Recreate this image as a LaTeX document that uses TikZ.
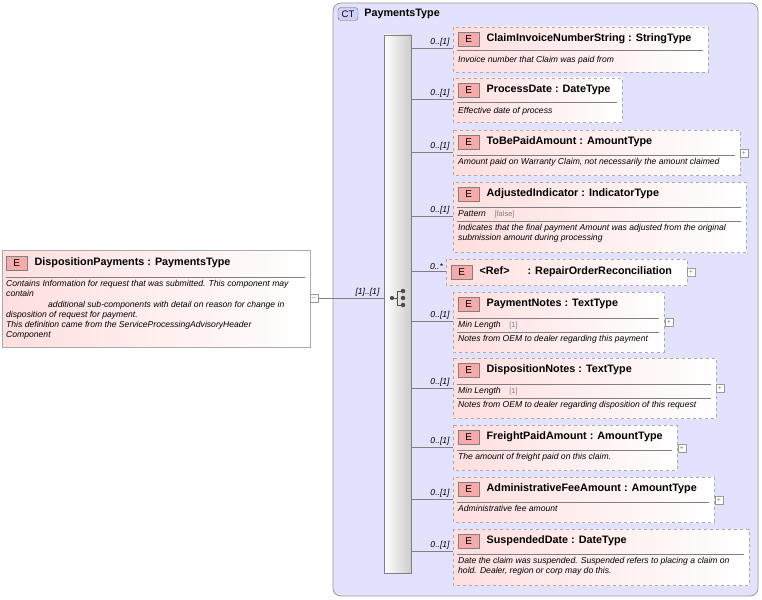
\documentclass[tikz,border=0pt]{standalone}
\usepackage{fontspec}
\setmainfont{Liberation Sans}
\usetikzlibrary{positioning}
\definecolor{elemfill}{RGB}{255,222,222}
\definecolor{elemedge}{RGB}{170,170,170}
\definecolor{ctfill}{RGB}{226,226,252}
\definecolor{badge}{RGB}{246,170,170}
\tikzset{
  elem/.style={draw=elemedge, dashed, left color=elemfill, right color=white, line width=0.8pt},
  solidelem/.style={draw=elemedge, left color=elemfill, right color=white, line width=0.8pt},
  ebadge/.style={draw=black!50, fill=badge, minimum width=21pt, minimum height=14pt, inner sep=0pt, font=\fontsize{10}{10}\selectfont},
  etitle/.style={anchor=west, inner sep=0pt, font=\fontsize{10.8}{11}\selectfont\bfseries},
  edesc/.style={anchor=north west, inner sep=0pt, align=left, font=\fontsize{8.6}{10.3}\selectfont\itshape},
  mult/.style={anchor=south east, inner sep=1pt, font=\fontsize{8.6}{9}\selectfont\itshape},
  plusbox/.style={draw=black!40, fill=white, minimum size=8pt, inner sep=0pt, font=\fontsize{7}{7}\selectfont, text=black!50},
  link/.style={draw=black!50, line width=0.6pt}
}
% element: top-left, bottom-right, name, title
\newcommand{\elembox}[6]{%
  \draw[elem] (#1,#2) rectangle (#3,#4);
  \node[ebadge, anchor=west] (#5e) at (#1+5,#2+12) {E};
  \node[etitle, right=7pt of #5e] (#5) {#6};
}
\begin{document}
\begin{tikzpicture}[x=1pt,y=-1pt]
  \useasboundingbox (0,0) rectangle (762,599);
  % complex type frame
  \draw[black!40, fill=ctfill, rounded corners=8pt, line width=0.8pt] (333,3) rectangle (758,596);
  \node[draw=black!60, fill=ctfill!60!blue!40, rounded corners=3pt, minimum width=20pt, minimum height=13pt, inner sep=0pt, font=\fontsize{9.5}{10}\selectfont] (ct) at (348,14) {CT};
  \node[etitle, right=6pt of ct] (ctname) {PaymentsType};
  % root element
  \draw[solidelem] (2,250) rectangle (310,347);
  \node[ebadge, anchor=west] (roote) at (6,263) {E};
  \node[etitle, right=7pt of roote] (root) {DispositionPayments : PaymentsType};
  \draw[black!50] (6,277) -- (305,277);
  \node[edesc] (rootdesc) at (6,280) {Contains Information for request that was submitted. This component may\\contain\\\hspace{42pt}additional sub-components with detail on reason for change in\\disposition of request for payment.\\This definition came from the ServiceProcessingAdvisoryHeader\\Component};
  \node[plusbox] (rootminus) at (314,298) {--};
  % sequence bar
  \draw[black!50, left color=white, right color=black!20, line width=0.6pt] (384,35) rectangle (411,573);
  \coordinate (seqin) at (384,298);
  \draw[link] (rootminus.east) -- (seqin) node[mult, pos=0.95] {[1]..[1]};
  % compositor icon
  \node[circle, fill=black!70, inner sep=1.5pt] (seqdot) at (392,298) {};
  \draw[black!70, line width=0.8pt] (seqdot) -- (397,298) (397,291) -- (397,305) (397,291) -- (402,291) (397,305) -- (402,305);
  \foreach \yy in {291,298,305} \node[circle, fill=black!70, inner sep=1.6pt] at (403,\yy) {};
  % children
  \elembox{453}{27}{708}{72}{c1}{ClaimInvoiceNumberString : StringType}
  \draw[black!50] (457,50) -- (703,50);
  \node[edesc] at (458,56) {Invoice number that Claim was paid from};
  \elembox{453}{78}{622}{122}{c2}{ProcessDate : DateType}
  \draw[black!50] (457,102) -- (617,102);
  \node[edesc] at (458,107) {Effective date of process};
  \elembox{453}{130}{740}{175}{c3}{ToBePaidAmount : AmountType}
  \draw[black!50] (457,155) -- (735,155);
  \node[edesc] at (458,158) {Amount paid on Warranty Claim, not necessarily the amount claimed};
  \node[plusbox] (c3p) at (744,153) {+};
  \elembox{453}{182}{746}{252}{c4}{AdjustedIndicator : IndicatorType}
  \draw[black!50] (457,207) -- (741,207) (457,221) -- (741,221);
  \node[edesc] at (458,210) {Pattern\quad{\upshape\color{black!50}\fontsize{7.5}{8}\selectfont[false]}};
  \node[edesc] at (458,224) {Indicates that the final payment Amount was adjusted from the original\\submission amount during processing};
  \draw[elem] (446,259) rectangle (687,285);
  \node[ebadge, anchor=west] (c5e) at (451,272) {E};
  \node[etitle, right=7pt of c5e] (c5) {<Ref>\hspace{18pt}: RepairOrderReconciliation};
  \node[plusbox] (c5p) at (691,272) {+};
  \elembox{453}{292}{664}{352}{c6}{PaymentNotes : TextType}
  \draw[black!50] (457,318) -- (659,318) (457,332) -- (659,332);
  \node[edesc] at (458,321) {Min Length\quad{\upshape\color{black!50}\fontsize{7.5}{8}\selectfont[1]}};
  \node[edesc] at (458,335) {Notes from OEM to dealer regarding this payment};
  \node[plusbox] (c6p) at (669,322) {+};
  \elembox{453}{358}{716}{418}{c7}{DispositionNotes : TextType}
  \draw[black!50] (457,384) -- (711,384) (457,398) -- (711,398);
  \node[edesc] at (458,387) {Min Length\quad{\upshape\color{black!50}\fontsize{7.5}{8}\selectfont[1]}};
  \node[edesc] at (458,401) {Notes from OEM to dealer regarding disposition of this request};
  \node[plusbox] (c7p) at (720,388) {+};
  \elembox{453}{425}{677}{470}{c8}{FreightPaidAmount : AmountType}
  \draw[black!50] (457,450) -- (672,450);
  \node[edesc] at (458,453) {The amount of freight paid on this claim.};
  \node[plusbox] (c8p) at (682,448) {+};
  \elembox{453}{477}{714}{522}{c9}{AdministrativeFeeAmount : AmountType}
  \draw[black!50] (457,502) -- (709,502);
  \node[edesc] at (458,505) {Administrative fee amount};
  \node[plusbox] (c9p) at (719,500) {+};
  \elembox{453}{529}{749}{585}{c10}{SuspendedDate : DateType}
  \draw[black!50] (457,554) -- (744,554);
  \node[edesc] at (458,557) {Date the claim was suspended. Suspended refers to placing a claim on\\hold. Dealer, region or corp may do this.};
  % connectors
  \foreach \yy/\tt in {48/0..[1], 99/0..[1], 152/0..[1], 216/0..[1], 321/0..[1], 388/0..[1], 447/0..[1], 499/0..[1], 551/0..[1]} {
    \draw[link] (411,\yy) -- (453,\yy) node[mult, pos=0.95] {\tt};
  }
  \draw[link] (411,271) -- (446,271) node[mult, pos=0.95] {0..*};
\end{tikzpicture}
\end{document}
